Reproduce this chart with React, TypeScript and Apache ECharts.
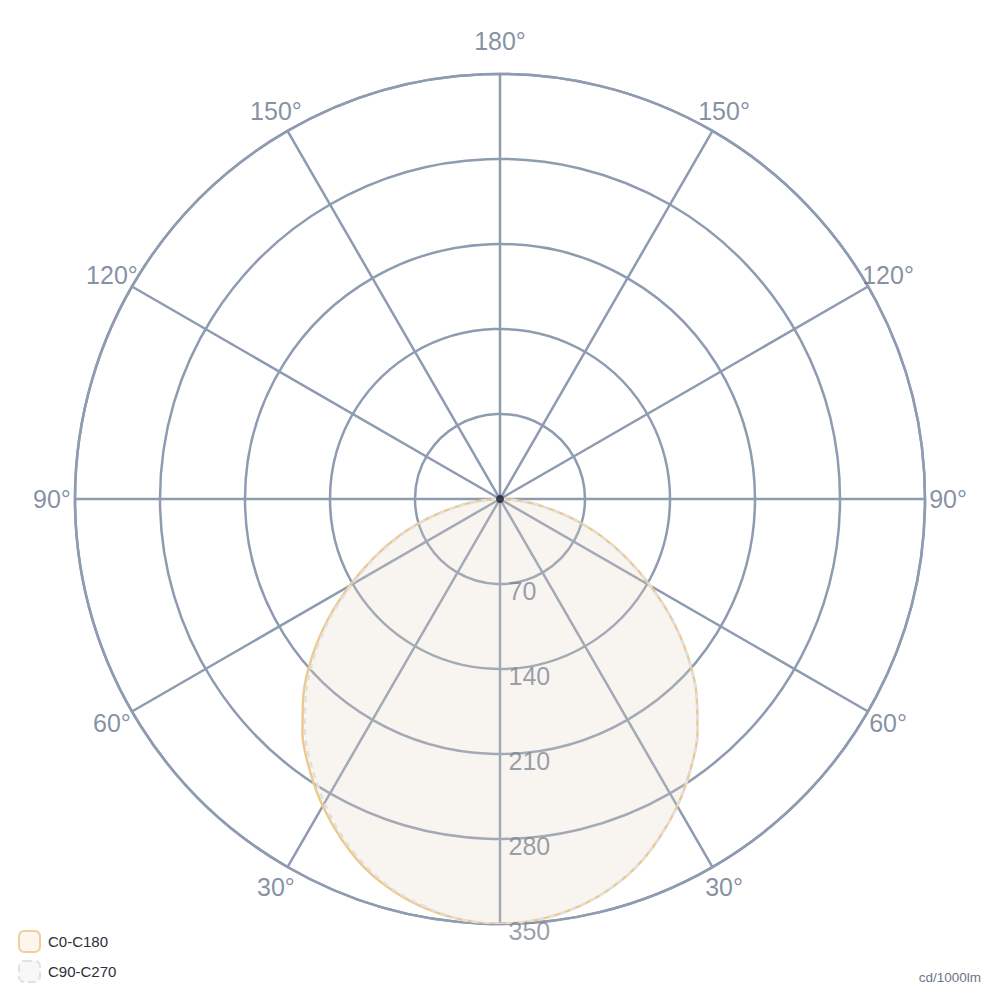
import React, { useEffect, useRef } from "react";
import * as echarts from "echarts";

// Gamma angles (degrees from nadir) and luminous intensity per C-plane (cd/1000lm)
const GAMMA = [0, 5, 10, 15, 20, 25, 30, 35, 40, 45, 50, 55, 60, 65, 70, 75, 80, 85, 90];
const C0 = [350, 348, 343, 335, 324, 309, 292, 273, 253, 229, 202, 173, 143, 115, 88, 61, 36, 15, 0];
const C180 = [350, 348, 343, 335, 324, 309, 292, 273, 253, 229, 202, 173, 143, 115, 88, 61, 36, 15, 0];
const C90 = [350, 348, 343, 335, 324, 309, 292, 273, 253, 229, 202, 173, 143, 115, 88, 61, 36, 15, 0];
const C270 = [350, 348, 342, 334, 322, 307, 289, 270, 250, 226, 199, 171, 141, 113, 86, 60, 35, 14, 0];

const RADIUS_TICKS = [70, 140, 210, 280, 350];
const ANGLE_TICKS = [30, 60, 90, 120, 150, 180, 210, 240, 270, 300, 330];
const SERIES_NAMES = ["C0-C180", "C90-C270"];
const UNIT = "cd/1000lm";

const GRID = "#8e9bb0";
const FONT = "Liberation Sans, Arial, sans-serif";

function planeCurve(right: number[], left: number[]) {
  const pts: number[][] = [];
  for (let i = GAMMA.length - 1; i >= 0; i--) pts.push([right[i], 360 - GAMMA[i]]);
  for (let i = 1; i < GAMMA.length; i++) pts.push([left[i], GAMMA[i]]);
  return pts;
}

export default function App() {
  const ref = useRef<HTMLDivElement>(null);
  useEffect(() => {
    if (!ref.current) return;
    const chart = echarts.init(ref.current, undefined, { renderer: "svg" });
    const labelR = 369;
    chart.setOption({
      animation: false,
      backgroundColor: "#ffffff",
      textStyle: { fontFamily: FONT },
      polar: { center: ["50%", "49.9%"], radius: [0, 425] },
      angleAxis: {
        type: "value",
        min: 0,
        max: 360,
        interval: 30,
        startAngle: -90,
        clockwise: true,
        axisLine: { show: true, lineStyle: { color: GRID, width: 2.5 } },
        axisTick: { show: false },
        axisLabel: { show: false },
        splitLine: { show: true, lineStyle: { color: GRID, width: 2.5 } },
      },
      radiusAxis: {
        type: "value",
        min: 0,
        max: 350,
        interval: 70,
        axisLine: { show: false },
        axisTick: { show: false },
        axisLabel: { show: false },
        splitLine: { show: true, lineStyle: { color: GRID, width: 2.5 } },
      },
      legend: {
        orient: "vertical",
        left: 13,
        top: 925,
        itemWidth: 21,
        itemHeight: 21,
        itemGap: 7,
        icon: "roundRect",
        textStyle: { fontSize: 15, color: "#2b2f36", fontFamily: FONT, padding: [0, 0, 0, 3] },
        data: [
          {
            name: SERIES_NAMES[0],
            itemStyle: { color: "#fcf6ed", borderColor: "#efcf9e", borderWidth: 2 },
          },
          {
            name: SERIES_NAMES[1],
            itemStyle: { color: "#f8f8f8", borderColor: "#e2e2e2", borderWidth: 2, borderType: "dashed" },
          },
        ],
      },
      title: {
        text: UNIT,
        right: 14,
        top: 965,
        textStyle: { fontSize: 13.5, color: "#6b7585", fontWeight: "normal", fontFamily: FONT },
      },
      series: [
        {
          name: SERIES_NAMES[0],
          type: "line",
          coordinateSystem: "polar",
          symbol: "none",
          smooth: 0.3,
          data: planeCurve(C0, C180),
          lineStyle: { color: "#ecc98e", width: 2.5 },
          itemStyle: { color: "#ecc98e" },
          areaStyle: { color: "rgba(232,212,175,0.2)" },
          z: 2,
        },
        {
          name: SERIES_NAMES[1],
          type: "line",
          coordinateSystem: "polar",
          symbol: "none",
          smooth: 0.3,
          data: planeCurve(C90, C270),
          lineStyle: { color: "#e0e0e0", width: 2.5, type: [6, 5] },
          itemStyle: { color: "#e0e0e0" },
          areaStyle: { color: "rgba(225,225,225,0.18)" },
          z: 3,
        },
        {
          name: "radius-labels",
          type: "scatter",
          coordinateSystem: "polar",
          silent: true,
          clip: false,
          symbolSize: 1,
          itemStyle: { color: "rgba(0,0,0,0)" },
          data: RADIUS_TICKS.map((v) => [v, 0]),
          label: {
            show: true,
            position: "right",
            distance: 8,
            offset: [0, 7],
            formatter: (p: any) => String(p.value[0]),
            fontSize: 25,
            color: "#7f8792",
            fontFamily: FONT,
          },
          z: 5,
        },
        {
          name: "angle-labels",
          type: "scatter",
          coordinateSystem: "polar",
          silent: true,
          clip: false,
          symbolSize: 1,
          itemStyle: { color: "rgba(0,0,0,0)" },
          data: ANGLE_TICKS.map((a) => ({
            value: [labelR, a],
            label: a === 180 ? { offset: [0, -10] } : undefined,
          })),
          label: {
            show: true,
            position: "inside",
            formatter: (p: any) => {
              const a = p.value[1];
              return (a <= 180 ? a : 360 - a) + "°";
            },
            fontSize: 25,
            color: "#66758c",
            fontFamily: FONT,
          },
          z: 5,
        },
        {
          name: "origin",
          type: "scatter",
          coordinateSystem: "polar",
          silent: true,
          symbolSize: 8,
          itemStyle: { color: "#111a2b" },
          data: [[0, 0]],
          z: 6,
        },
      ],
    });
    return () => chart.dispose();
  }, []);
  return (
    <div
      ref={ref}
      style={{ position: "absolute", left: 0, top: 0, width: 1000, height: 1000 }}
    />
  );
}
